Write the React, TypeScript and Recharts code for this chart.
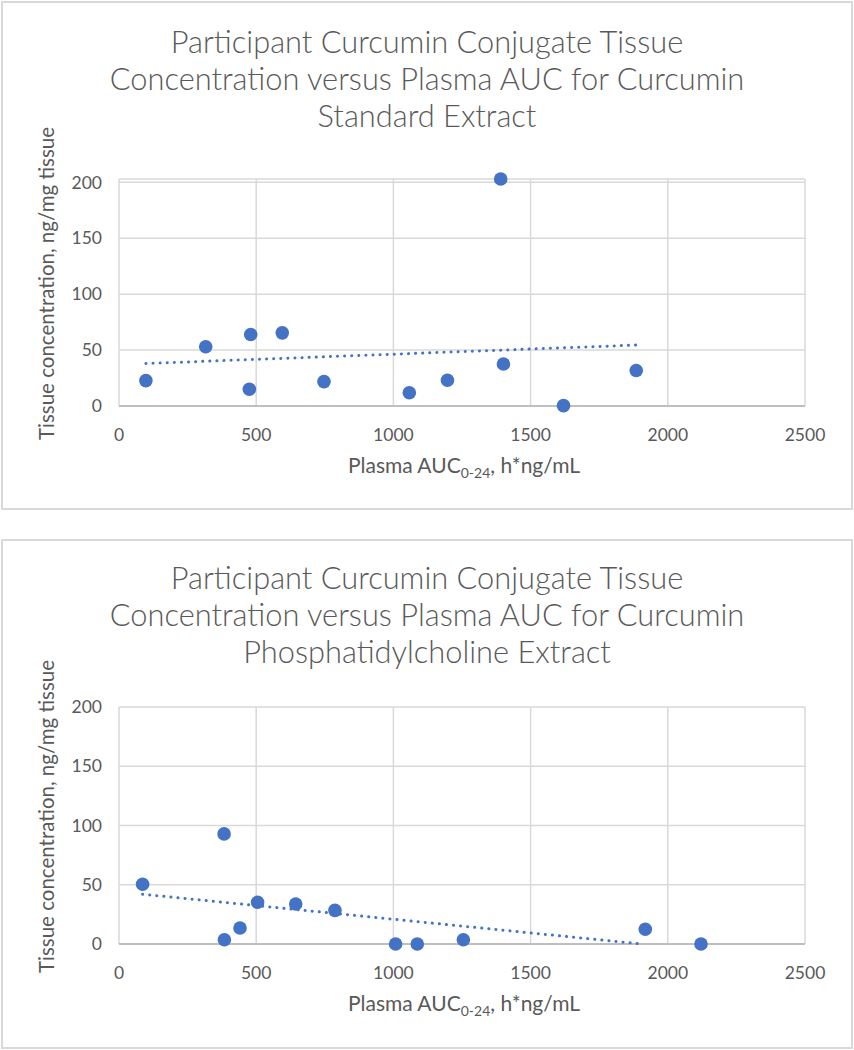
import React from 'react';
import { ScatterChart, Scatter, XAxis, YAxis, CartesianGrid, Label } from 'recharts';

const xTicks = [0, 500, 1000, 1500, 2000, 2500];
const yTicks = [0, 50, 100, 150, 200];

const standardAuc = [98, 316, 480, 475, 595, 747, 1058, 1197, 1391, 1401, 1620, 1885];
const standardTissue = [22.7, 53, 64, 15, 65.4, 21.8, 11.8, 23, 203, 37.5, 0.3, 31.8];
const standardTrendAuc = [98, 1885];
const standardTrendTissue = [38, 54.5];

const pcAuc = [86, 383, 384, 441, 505, 644, 787, 1008, 1087, 1255, 1918, 2121];
const pcTissue = [50.4, 92.9, 3.6, 13.5, 35.2, 33.8, 28.4, 0, 0, 3.6, 12.4, 0];
const pcTrendAuc = [86, 1905];
const pcTrendTissue = [42, 0];

const standardTitle = [
  'Participant Curcumin Conjugate Tissue',
  'Concentration versus Plasma AUC for Curcumin',
  'Standard Extract',
];
const pcTitle = [
  'Participant Curcumin Conjugate Tissue',
  'Concentration versus Plasma AUC for Curcumin',
  'Phosphatidylcholine Extract',
];
const yTitle = 'Tissue concentration, ng/mg tissue';
const xTitleMain = 'Plasma AUC';
const xTitleSub = '0-24';
const xTitleTail = ', h*ng/mL';

const BLUE = '#4472c4';
const TEXT = '#595959';
const FONT = 'Lato, "Noto Sans", sans-serif';

const zip = (xs: number[], ys: number[]) => xs.map((x, i) => ({ x, y: ys[i] }));

const Dot = (props: any) => <circle cx={props.cx} cy={props.cy} r={6.8} fill={BLUE} />;
const NoDot = () => <g />;

type PanelProps = {
  top: number;
  height: number;
  plotTop: number;
  plotBottom: number;
  titleTop: number;
  title: string[];
  points: { x: number; y: number }[];
  trend: { x: number; y: number }[];
};

const W = 854;
const PLOT_LEFT = 119;
const PLOT_RIGHT = 805;
const Y_AXIS_W = 60;
const X_AXIS_H = 30;

function Panel({ top, height, plotTop, plotBottom, titleTop, title, points, trend }: PanelProps) {
  const yCenter = (plotTop + plotBottom) / 2 - 9;
  return (
    <div style={{ position: 'absolute', left: 0, top, width: W, height }}>
      <div
        style={{
          position: 'absolute',
          left: 1,
          top: 1,
          width: W - 2,
          height: height - 2,
          boxSizing: 'border-box',
          border: '2px solid #d9d9d9',
        }}
      />
      <div
        style={{
          position: 'absolute',
          left: 0,
          top: titleTop,
          width: W,
          textAlign: 'center',
          fontFamily: FONT,
          fontSize: 30.8,
          lineHeight: '37px',
          color: TEXT,
          fontWeight: 300,
          whiteSpace: 'nowrap',
        }}
      >
        {title.map((t, i) => (
          <div key={i}>{t}</div>
        ))}
      </div>
      <div style={{ position: 'absolute', left: 0, top: 0 }}>
        <ScatterChart
          width={W}
          height={height}
          margin={{
            top: plotTop,
            bottom: height - plotBottom - X_AXIS_H,
            left: PLOT_LEFT - Y_AXIS_W,
            right: W - PLOT_RIGHT,
          }}
        >
          <CartesianGrid stroke="#d9d9d9" strokeWidth={1.5} />
          <XAxis
            type="number"
            dataKey="x"
            domain={[0, 2500]}
            ticks={xTicks}
            height={X_AXIS_H}
            tickLine={false}
            tickSize={0}
            tickMargin={23}
            axisLine={{ stroke: '#bfbfbf', strokeWidth: 2 }}
            tick={{ fill: TEXT, fontSize: 17.5, fontFamily: FONT }}
            interval={0}
          >
            <Label
              content={() => (
                <text
                  x={(PLOT_LEFT + PLOT_RIGHT) / 2 + 2}
                  y={plotBottom + 67}
                  textAnchor="middle"
                  fill={TEXT}
                  fontFamily={FONT}
                  fontSize={21}
                >
                  <tspan>{xTitleMain}</tspan>
                  <tspan dy={5} fontSize={14}>{xTitleSub}</tspan>
                  <tspan dy={-5}>{xTitleTail}</tspan>
                </text>
              )}
            />
          </XAxis>
          <YAxis
            type="number"
            dataKey="y"
            domain={[0, 200]}
            ticks={yTicks}
            width={Y_AXIS_W}
            tickLine={false}
            tickSize={0}
            tickMargin={17}
            axisLine={false}
            tick={{ fill: TEXT, fontSize: 17.5, fontFamily: FONT }}
            interval={0}
          >
            <Label
              content={() => (
                <text
                  x={46}
                  y={yCenter}
                  transform={`rotate(-90, 46, ${yCenter})`}
                  textAnchor="middle"
                  dominantBaseline="central"
                  fill={TEXT}
                  fontFamily={FONT}
                  fontSize={20.5}
                >
                  {yTitle}
                </text>
              )}
            />
          </YAxis>
          <Scatter data={points} shape={Dot} isAnimationActive={false} />
          <Scatter
            data={trend}
            shape={NoDot}
            line={{ stroke: BLUE, strokeWidth: 3, strokeDasharray: '0.1 7', strokeLinecap: 'round' }}
            isAnimationActive={false}
          />
        </ScatterChart>
      </div>
    </div>
  );
}

export default function App() {
  return (
    <div style={{ position: 'absolute', left: 0, top: 0, width: W, height: 1050, background: '#fff' }}>
      <Panel
        top={0}
        height={511}
        plotTop={179}
        plotBottom={406}
        titleTop={23}
        title={standardTitle}
        points={zip(standardAuc, standardTissue)}
        trend={zip(standardTrendAuc, standardTrendTissue)}
      />
      <Panel
        top={538}
        height={512}
        plotTop={169}
        plotBottom={406}
        titleTop={21}
        title={pcTitle}
        points={zip(pcAuc, pcTissue)}
        trend={zip(pcTrendAuc, pcTrendTissue)}
      />
    </div>
  );
}
